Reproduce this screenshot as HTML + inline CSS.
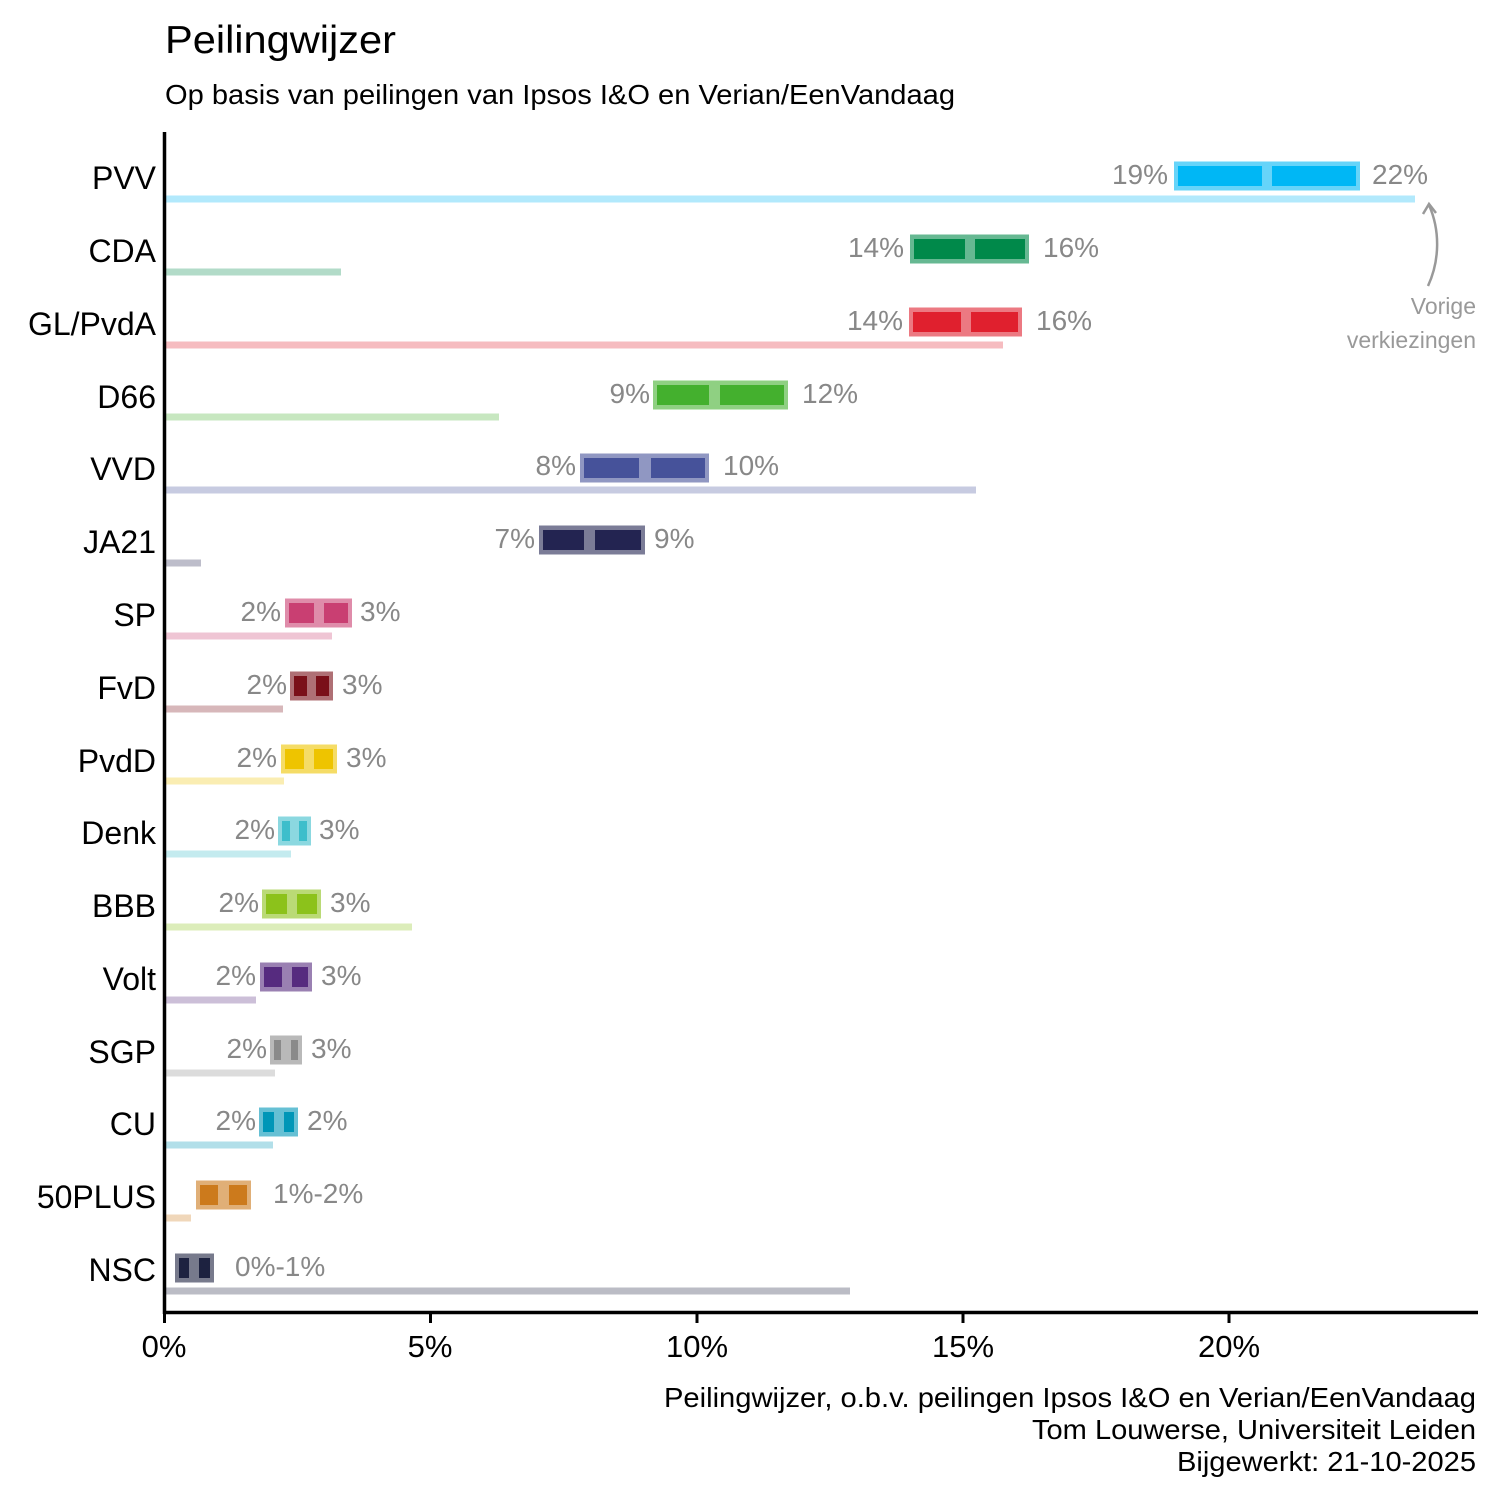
<!DOCTYPE html>
<html><head><meta charset="utf-8"><style>
html,body{margin:0;padding:0;background:#fff}
svg{display:block}
text{font-family:"Liberation Sans",Arial,sans-serif}
.p{font-size:32px;fill:#000;text-anchor:end}
.v{font-size:28px;fill:#888}
.l{text-anchor:end}
</style></head><body>
<svg width="1500" height="1500" viewBox="0 0 1500 1500" xmlns="http://www.w3.org/2000/svg">
<text x="165" y="53" font-size="39" fill="#000" textLength="231" lengthAdjust="spacingAndGlyphs">Peilingwijzer</text>
<text x="165" y="104" font-size="28" fill="#000" textLength="790" lengthAdjust="spacingAndGlyphs">Op basis van peilingen van Ipsos I&amp;O en Verian/EenVandaag</text>

<g id="rows">
<rect x="166" y="195.5" width="1249" height="7" fill="#00b7f5" opacity="0.3"/>
<rect x="1174" y="161.5" width="186" height="29" fill="#00b7f5" opacity="0.6"/>
<rect x="1178" y="166" width="84" height="20" fill="#00b7f5"/><rect x="1272" y="166" width="84" height="20" fill="#00b7f5"/>
<text class="v l" x="1168" y="184">19%</text><text class="v" x="1372" y="184">22%</text>
<text class="p" x="156" y="189">PVV</text>

<rect x="166" y="268.5" width="175" height="7" fill="#00894a" opacity="0.3"/>
<rect x="910" y="234.5" width="119" height="29" fill="#00894a" opacity="0.6"/>
<rect x="914" y="239" width="51" height="20" fill="#00894a"/><rect x="975" y="239" width="50" height="20" fill="#00894a"/>
<text class="v l" x="904" y="257">14%</text><text class="v" x="1043" y="257">16%</text>
<text class="p" x="156" y="262">CDA</text>

<rect x="166" y="341.5" width="837" height="7" fill="#e0202e" opacity="0.3"/>
<rect x="909" y="307.5" width="113" height="29" fill="#e0202e" opacity="0.6"/>
<rect x="913" y="312" width="48" height="20" fill="#e0202e"/><rect x="971" y="312" width="47" height="20" fill="#e0202e"/>
<text class="v l" x="903" y="330">14%</text><text class="v" x="1036" y="330">16%</text>
<text class="p" x="156" y="335">GL/PvdA</text>

<rect x="166" y="413.5" width="333" height="7" fill="#44b02e" opacity="0.3"/>
<rect x="653" y="380.5" width="135" height="29" fill="#44b02e" opacity="0.6"/>
<rect x="657" y="385" width="52" height="20" fill="#44b02e"/><rect x="720" y="385" width="64" height="20" fill="#44b02e"/>
<text class="v l" x="650" y="403">9%</text><text class="v" x="802" y="403">12%</text>
<text class="p" x="156" y="408">D66</text>

<rect x="166" y="486.5" width="810" height="7" fill="#46529a" opacity="0.3"/>
<rect x="580" y="453.5" width="129" height="29" fill="#46529a" opacity="0.6"/>
<rect x="584" y="458" width="55" height="20" fill="#46529a"/><rect x="651" y="458" width="54" height="20" fill="#46529a"/>
<text class="v l" x="576" y="475">8%</text><text class="v" x="723" y="475">10%</text>
<text class="p" x="156" y="480">VVD</text>

<rect x="166" y="559.5" width="35" height="7" fill="#232451" opacity="0.3"/>
<rect x="539" y="525.5" width="106" height="29" fill="#232451" opacity="0.6"/>
<rect x="543" y="530" width="41" height="20" fill="#232451"/><rect x="595" y="530" width="46" height="20" fill="#232451"/>
<text class="v l" x="535" y="548">7%</text><text class="v" x="654" y="548">9%</text>
<text class="p" x="156" y="553">JA21</text>

<rect x="166" y="632.5" width="166" height="7" fill="#c93f72" opacity="0.3"/>
<rect x="285" y="598.5" width="67" height="29" fill="#c93f72" opacity="0.6"/>
<rect x="289" y="603" width="25" height="20" fill="#c93f72"/><rect x="324" y="603" width="24" height="20" fill="#c93f72"/>
<text class="v l" x="281" y="621">2%</text><text class="v" x="360" y="621">3%</text>
<text class="p" x="156" y="626">SP</text>

<rect x="166" y="705.5" width="117" height="7" fill="#7a1019" opacity="0.3"/>
<rect x="290" y="671.5" width="43" height="29" fill="#7a1019" opacity="0.6"/>
<rect x="294" y="676" width="13" height="20" fill="#7a1019"/><rect x="316" y="676" width="13" height="20" fill="#7a1019"/>
<text class="v l" x="287" y="694">2%</text><text class="v" x="342" y="694">3%</text>
<text class="p" x="156" y="699">FvD</text>

<rect x="166" y="777.5" width="118" height="7" fill="#eec400" opacity="0.3"/>
<rect x="281" y="744.5" width="56" height="29" fill="#eec400" opacity="0.6"/>
<rect x="285" y="749" width="19" height="20" fill="#eec400"/><rect x="314" y="749" width="19" height="20" fill="#eec400"/>
<text class="v l" x="277" y="767">2%</text><text class="v" x="346" y="767">3%</text>
<text class="p" x="156" y="772">PvdD</text>

<rect x="166" y="850.5" width="125" height="7" fill="#3dbecb" opacity="0.3"/>
<rect x="278" y="816.5" width="33" height="29" fill="#3dbecb" opacity="0.6"/>
<rect x="282" y="821" width="8" height="20" fill="#3dbecb"/><rect x="299" y="821" width="8" height="20" fill="#3dbecb"/>
<text class="v l" x="275" y="839">2%</text><text class="v" x="319" y="839">3%</text>
<text class="p" x="156" y="844">Denk</text>

<rect x="166" y="923.5" width="246" height="7" fill="#8cc21b" opacity="0.3"/>
<rect x="262" y="889.5" width="59" height="29" fill="#8cc21b" opacity="0.6"/>
<rect x="266" y="894" width="21" height="20" fill="#8cc21b"/><rect x="297" y="894" width="20" height="20" fill="#8cc21b"/>
<text class="v l" x="259" y="912">2%</text><text class="v" x="330" y="912">3%</text>
<text class="p" x="156" y="917">BBB</text>

<rect x="166" y="996.5" width="90" height="7" fill="#562b7f" opacity="0.3"/>
<rect x="260" y="962.5" width="52" height="29" fill="#562b7f" opacity="0.6"/>
<rect x="264" y="967" width="18" height="20" fill="#562b7f"/><rect x="292" y="967" width="16" height="20" fill="#562b7f"/>
<text class="v l" x="256" y="985">2%</text><text class="v" x="321" y="985">3%</text>
<text class="p" x="156" y="990">Volt</text>

<rect x="166" y="1069.5" width="109" height="7" fill="#8a8a8a" opacity="0.3"/>
<rect x="270" y="1035.5" width="32" height="29" fill="#8a8a8a" opacity="0.6"/>
<rect x="274" y="1040" width="7" height="20" fill="#8a8a8a"/><rect x="291" y="1040" width="7" height="20" fill="#8a8a8a"/>
<text class="v l" x="267" y="1058">2%</text><text class="v" x="311" y="1058">3%</text>
<text class="p" x="156" y="1063">SGP</text>

<rect x="166" y="1141.5" width="107" height="7" fill="#0096b7" opacity="0.3"/>
<rect x="259" y="1107.5" width="39" height="29" fill="#0096b7" opacity="0.6"/>
<rect x="263" y="1112" width="11" height="20" fill="#0096b7"/><rect x="284" y="1112" width="10" height="20" fill="#0096b7"/>
<text class="v l" x="256" y="1130">2%</text><text class="v" x="307" y="1130">2%</text>
<text class="p" x="156" y="1135">CU</text>

<rect x="166" y="1214.5" width="25" height="7" fill="#cc7a1c" opacity="0.3"/>
<rect x="196" y="1180.5" width="55" height="29" fill="#cc7a1c" opacity="0.6"/>
<rect x="200" y="1185" width="18" height="20" fill="#cc7a1c"/><rect x="229" y="1185" width="18" height="20" fill="#cc7a1c"/>
<text class="v" x="273" y="1203">1%-2%</text>
<text class="p" x="156" y="1208">50PLUS</text>

<rect x="166" y="1287.5" width="684" height="7" fill="#1d2240" opacity="0.3"/>
<rect x="175" y="1253.5" width="39" height="29" fill="#1d2240" opacity="0.6"/>
<rect x="179" y="1258" width="10" height="20" fill="#1d2240"/><rect x="199" y="1258" width="11" height="20" fill="#1d2240"/>
<text class="v" x="235" y="1276">0%-1%</text>
<text class="p" x="156" y="1281">NSC</text>
</g>

<path d="M1428 286 C1440 260 1440 230 1429 205" fill="none" stroke="#999" stroke-width="2.5"/>
<path d="M1423 214 L1429 204 L1436 213" fill="none" stroke="#999" stroke-width="2.5"/>
<text x="1476" y="314" font-size="23" fill="#999" text-anchor="end">Vorige</text>
<text x="1476" y="348" font-size="23" fill="#999" text-anchor="end">verkiezingen</text>

<line x1="164.5" y1="132" x2="164.5" y2="1314" stroke="#000" stroke-width="3.5"/>
<line x1="163" y1="1312.5" x2="1478" y2="1312.5" stroke="#000" stroke-width="3.5"/>
<g stroke="#000" stroke-width="3">
<line x1="164.5" y1="1312" x2="164.5" y2="1323"/><line x1="430.5" y1="1312" x2="430.5" y2="1323"/>
<line x1="697" y1="1312" x2="697" y2="1323"/><line x1="963" y1="1312" x2="963" y2="1323"/>
<line x1="1229" y1="1312" x2="1229" y2="1323"/>
</g>
<g font-size="31" fill="#000" text-anchor="middle">
<text x="164" y="1357">0%</text><text x="430" y="1357">5%</text><text x="697" y="1357">10%</text>
<text x="963" y="1357">15%</text><text x="1229" y="1357">20%</text>
</g>
<g font-size="28" fill="#000">
<text x="664" y="1407" textLength="812" lengthAdjust="spacingAndGlyphs">Peilingwijzer, o.b.v. peilingen Ipsos I&amp;O en Verian/EenVandaag</text>
<text x="1032" y="1439" textLength="444" lengthAdjust="spacingAndGlyphs">Tom Louwerse, Universiteit Leiden</text>
<text x="1177" y="1471" textLength="299" lengthAdjust="spacingAndGlyphs">Bijgewerkt: 21-10-2025</text>
</g>
</svg>
</body></html>
